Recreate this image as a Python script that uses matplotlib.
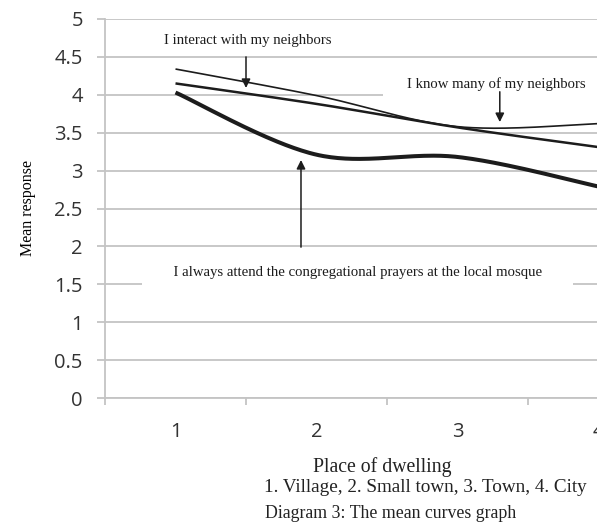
"""
Mean curves graph: mean response by place of dwelling
(1 Village, 2 Small town, 3 Town, 4 City), Excel-style smoothed lines.
"""

import numpy as np
import matplotlib

matplotlib.use("Agg")
import matplotlib.pyplot as plt

# ── Data ──────────────────────────────────────────────────────────────────────
places = [1, 2, 3, 4]
know_neighbors = [4.34, 3.99, 3.58, 3.62]      # thin line
interact_neighbors = [4.15, 3.88, 3.57, 3.31]  # medium line
attend_mosque = [4.03, 3.21, 3.18, 2.79]       # thick line

y_ticks = [0, 0.5, 1, 1.5, 2, 2.5, 3, 3.5, 4, 4.5, 5]
y_tick_labels = ["0", "0.5", "1", "1.5", "2", "2.5", "3", "3.5", "4", "4.5", "5"]

GRID = "#c4c4c4"
INK = "#1c1c1c"
SERIF = "Liberation Serif"
SANS = "Open Sans"


def smooth(xs, ys, n=60):
    """Catmull-Rom curve through the points (like Excel's smoothed line)."""
    p = np.column_stack([xs, ys]).astype(float)
    p = np.vstack([p[0], p, p[-1]])
    out = []
    t = np.linspace(0, 1, n)[:, None]
    for i in range(1, len(p) - 2):
        p0, p1, p2, p3 = p[i - 1], p[i], p[i + 1], p[i + 2]
        seg = 0.5 * ((2 * p1) + (-p0 + p2) * t
                     + (2 * p0 - 5 * p1 + 4 * p2 - p3) * t ** 2
                     + (-p0 + 3 * p1 - 3 * p2 + p3) * t ** 3)
        out.append(seg if i == 1 else seg[1:])
    c = np.vstack(out)
    return c[:, 0], c[:, 1]


fig = plt.figure(figsize=(5.97, 5.31), dpi=100)
# axes runs past the right edge, like the cropped original
ax = fig.add_axes([105 / 597, 1 - 398 / 531, 564 / 597, 379 / 531])
ax.set_xlim(0.5, 4.5)
ax.set_ylim(0, 5)

# ── Grid / axes styling ───────────────────────────────────────────────────────
ax.set_yticks(y_ticks)
ax.set_yticklabels(y_tick_labels, fontfamily=SANS, fontsize=14.5, color="#333333")
ax.set_xticks(places)
ax.set_xticklabels([str(p) for p in places], fontfamily=SANS, fontsize=14.5,
                   color="#333333")
ax.set_xticks([0.5, 1.5, 2.5, 3.5, 4.5], minor=True)
ax.tick_params(axis="y", length=6, width=1.3, color=GRID, pad=10)
ax.tick_params(axis="x", which="major", length=0, pad=17)
ax.tick_params(axis="x", which="minor", length=5, width=1.3, color=GRID)
ax.grid(axis="y", color=GRID, linewidth=1.3, zorder=0)
ax.set_axisbelow(True)
for side in ("top", "right"):
    ax.spines[side].set_visible(False)
for side in ("left", "bottom"):
    ax.spines[side].set_color(GRID)
    ax.spines[side].set_linewidth(1.3)

ax.set_ylabel("Mean response", fontfamily=SERIF, fontsize=11.5, labelpad=13)

# ── Curves ────────────────────────────────────────────────────────────────────
for values, lw in ((know_neighbors, 1.2), (interact_neighbors, 1.8),
                   (attend_mosque, 2.9)):
    sx, sy = smooth(places, values)
    ax.plot(sx, sy, color=INK, linewidth=lw, solid_capstyle="butt", zorder=4)

# ── Annotations ───────────────────────────────────────────────────────────────
ann_font = dict(fontfamily=SERIF, fontsize=10.6, color=INK, ha="center",
                va="center", zorder=3)
arrow = dict(arrowstyle="-|>", color=INK, lw=1.1, mutation_scale=13,
             shrinkA=0, shrinkB=0)

ax.text(1.51, 4.72, "I interact with my neighbors", **ann_font)
ax.annotate("", xy=(1.50, 4.09), xytext=(1.50, 4.50), arrowprops=arrow, zorder=5)

ax.text(3.26, 4.14, "    I know many of my neighbors   ",
        bbox=dict(facecolor="white", edgecolor="none", pad=6), **ann_font)
ax.annotate("", xy=(3.30, 3.64), xytext=(3.30, 4.04), arrowprops=arrow, zorder=5)

ax.text(2.29, 1.65,
        "      I always attend the congregational prayers at the local mosque      ",
        bbox=dict(facecolor="white", edgecolor="none", pad=6), **ann_font)
ax.annotate("", xy=(1.89, 3.14), xytext=(1.89, 1.99), arrowprops=arrow, zorder=5)

# ── Axis title and caption (figure text) ──────────────────────────────────────
fig.text(382 / 597, 1 - 467 / 531, "Place of dwelling", fontfamily=SERIF,
         fontsize=14.2, ha="center", va="center", color="#222222")
fig.text(425 / 597, 1 - 487 / 531, "1. Village, 2. Small town, 3. Town, 4. City",
         fontfamily=SERIF, fontsize=13.8, ha="center", va="center",
         color="#222222")
fig.text(391 / 597, 1 - 513 / 531, "Diagram 3: The mean curves graph",
         fontfamily=SERIF, fontsize=12.8, ha="center", va="center",
         color="#222222")

fig.savefig("out.png", dpi=100)
